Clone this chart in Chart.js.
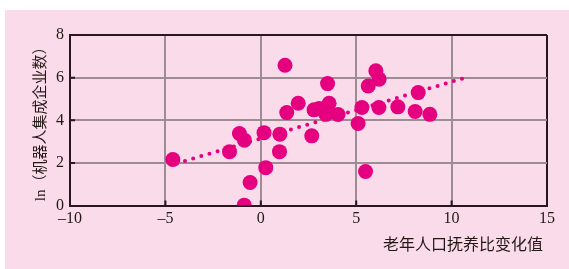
<!DOCTYPE html>
<html lang="zh">
  <head>
    <meta charset="UTF-8" />
    <title>老年人口抚养比变化值</title>
    <style>
      html, body { margin: 0; padding: 0; background: #ffffff; }
      #panel { position: absolute; left: 5px; top: 10px; width: 564px; height: 259px; background: #f9dbe9; }
      #wrap { position: absolute; left: 0; top: 0; width: 569px; height: 269px; }
    </style>
  </head>
  <body>
    <div id="panel"></div>
    <div id="wrap"><canvas id="myChart"></canvas></div>

    <script src="https://cdn.jsdelivr.net/npm/chart.js@4.4.0/dist/chart.umd.min.js"></script>
    <script>
      // 老年人口抚养比变化值 vs ln(机器人集成企业数)
      const xValues = [-4.61, -1.64, -1.12, -0.86, -0.56, -0.87, 0.17, 0.26, 1.0, 0.98,
        1.27, 1.36, 1.96, 2.79, 3.06, 3.5, 3.58, 3.41, 4.05, 2.67,
        5.3, 5.1, 5.49, 5.63, 6.03, 6.2, 6.19, 7.18, 8.25, 8.09, 8.86];
      const yValues = [2.16, 2.53, 3.38, 3.07, 1.08, 0.02, 3.42, 1.78, 3.35, 2.53,
        6.58, 4.36, 4.8, 4.49, 4.55, 5.72, 4.8, 4.28, 4.27, 3.27,
        4.6, 3.85, 1.6, 5.61, 6.32, 5.93, 4.6, 4.63, 5.3, 4.41, 4.28];
      const trendX = [-4.4, 10.8];
      const trendY = [1.98, 6.02];
      const xTicks = [-10, -5, 0, 5, 10, 15];
      const yTicks = [0, 2, 4, 6, 8];

      const pink = "#e4007f";
      const gridGray = "#9c8c94";
      const dark = "#2a161c";
      const font = "'Liberation Serif', 'Noto Sans CJK SC', serif";

      const innerTicks = {
        id: "innerTicks",
        afterDatasetsDraw(chart) {
          const { ctx, chartArea, scales } = chart;
          ctx.save();
          ctx.strokeStyle = dark;
          ctx.lineWidth = 2;
          ctx.beginPath();
          xTicks.slice(1, -1).forEach((v) => {
            const px = scales.x.getPixelForValue(v);
            ctx.moveTo(px, chartArea.bottom);
            ctx.lineTo(px, chartArea.bottom - 5);
          });
          yTicks.slice(1, -1).forEach((v) => {
            const py = scales.y.getPixelForValue(v);
            ctx.moveTo(chartArea.left, py);
            ctx.lineTo(chartArea.left + 5, py);
          });
          ctx.stroke();
          ctx.restore();
        },
      };

      const ctx = document.getElementById("myChart").getContext("2d");
      const myChart = new Chart(ctx, {
        type: "scatter",
        data: {
          datasets: [
            {
              type: "line",
              data: trendX.map((x, i) => ({ x: x, y: trendY[i] })),
              borderColor: pink,
              borderWidth: 4,
              borderDash: [0, 8.5],
              borderCapStyle: "round",
              pointRadius: 0,
              fill: false,
            },
            {
              data: xValues.map((x, i) => ({ x: x, y: yValues[i] })),
              backgroundColor: pink,
              borderWidth: 0,
              pointRadius: 7.5,
              pointHoverRadius: 7.5,
            },
          ],
        },
        options: {
          responsive: true,
          maintainAspectRatio: false,
          animation: false,
          layout: { padding: { left: 32, right: 22, top: 35, bottom: 14 } },
          plugins: { legend: { display: false }, tooltip: { enabled: false } },
          scales: {
            x: {
              type: "linear",
              min: -10,
              max: 15,
              afterBuildTicks: (axis) => { axis.ticks = xTicks.map((v) => ({ value: v })); },
              ticks: {
                color: "#231815",
                font: { family: font, size: 16 },
                padding: 4,
                callback: (v) => String(v).replace("-", "–"),
              },
              grid: {
                drawTicks: false,
                lineWidth: 2,
                color: (c) => (c.tick && c.tick.value === 15 ? dark : gridGray),
              },
              border: { color: dark, width: 2 },
              title: {
                display: true,
                text: "老年人口抚养比变化值 ",
                align: "end",
                color: "#231815",
                font: { family: font, size: 16 },
                padding: { top: 3, bottom: 0 },
              },
            },
            y: {
              type: "linear",
              min: 0,
              max: 8,
              afterBuildTicks: (axis) => { axis.ticks = yTicks.map((v) => ({ value: v })); },
              ticks: {
                color: "#231815",
                font: { family: font, size: 16 },
                padding: 6,
              },
              grid: {
                drawTicks: false,
                lineWidth: 2,
                color: (c) => (c.tick && c.tick.value === 8 ? dark : gridGray),
              },
              border: { color: dark, width: 2 },
              title: {
                display: true,
                text: "ln（机器人集成企业数）",
                color: "#231815",
                font: { family: font, size: 15 },
                padding: { top: 0, bottom: 0 },
              },
            },
          },
        },
        plugins: [innerTicks],
      });
    </script>
  </body>
</html>
